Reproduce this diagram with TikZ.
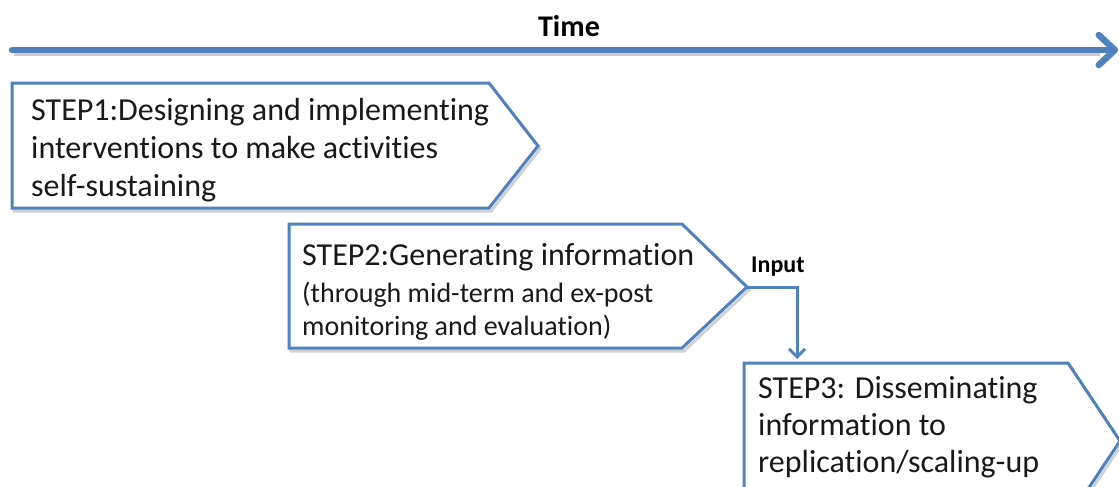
\documentclass[tikz,border=0pt]{standalone}
\usepackage{fontspec}
\setmainfont{Carlito}[Ligatures=NoCommon]
\usetikzlibrary{arrows.meta}
\definecolor{obblue}{HTML}{4F81BD}
\definecolor{shade}{HTML}{9A9A9A}
\tikzset{
  stepbox/.style={draw=obblue, line width=3pt, fill=white, line join=miter},
  stepshadow/.style={draw=shade, line width=3pt, opacity=0.45},
  timeline/.style={draw=obblue, line width=6.5pt, line cap=round,
    -{Straight Barb[length=16pt,width=30pt,line cap=round,line join=round]}},
  timeshadow/.style={draw=shade, line width=4pt, opacity=0.5},
  conn/.style={draw=obblue, line width=3pt,
    -{Straight Barb[length=8pt,width=16pt]}},
  bigtext/.style={font=\fontsize{32}{38}\selectfont, inner sep=0pt, anchor=base west, text=black!90},
  smalltext/.style={font=\fontsize{28}{33}\selectfont, inner sep=0pt, anchor=base west, text=black!90},
  boldlabel/.style={font=\bfseries, inner sep=0pt, anchor=base, text=black}
}
\begin{document}
\begin{tikzpicture}[x=1pt,y=-1pt]
\useasboundingbox (0,0) rectangle (1119,487);
\clip (0,0) rectangle (1119,487);
% time axis
\coordinate (tstart) at (12,50);
\coordinate (tend) at (1118,50);
\draw[timeshadow] (14,54) -- (1100,54);
\draw[timeline] (tstart) -- (tend);
\node[boldlabel, font=\bfseries\fontsize{30}{36}\selectfont] (time) at (569,37) {Time};
% STEP1
\draw[stepshadow] (14,86) -- (491,86) -- (540,149) -- (491,211) -- (14,211) -- cycle;
\draw[stepbox] (12,83) -- (489,83) -- (538,146) -- (489,208) -- (12,208) -- cycle;
\node[bigtext] (s1a) at (31,120) {STEP1:Designing and implementing};
\node[bigtext] (s1b) at (31,158) {interventions to make activities};
\node[bigtext] (s1c) at (31,196) {self-sustaining};
% STEP2
\coordinate (s2tip) at (747,287);
\draw[stepshadow] (291,227) -- (684,227) -- (749,290) -- (684,351) -- (291,351) -- cycle;
\draw[stepbox] (289,224) -- (682,224) -- (s2tip) -- (682,348) -- (289,348) -- cycle;
\node[bigtext] (s2a) at (302,265) {STEP2:Generating information};
\node[smalltext] (s2b) at (302,302) {(through mid-term and ex-post};
\node[smalltext] (s2c) at (302,335) {monitoring and evaluation)};
% STEP3
\draw[stepshadow] (746,366) -- (1070,366) -- (1122,444) -- (1070,522) -- (746,522) -- cycle;
\draw[stepbox] (744,363) -- (1068,363) -- (1120,441) -- (1068,519) -- (744,519) -- cycle;
\node[bigtext] (s3a) at (758,398) {STEP3: Disseminating};
\node[bigtext] (s3b) at (758,435) {information to};
\node[bigtext] (s3c) at (758,472) {replication/scaling-up};
% connector
\coordinate (s3in) at (797,359);
\draw[conn] (s2tip) -| (s3in);
\node[boldlabel, font=\bfseries\fontsize{24}{29}\selectfont, anchor=base west] (input) at (751,272) {Input};
\end{tikzpicture}
\end{document}
